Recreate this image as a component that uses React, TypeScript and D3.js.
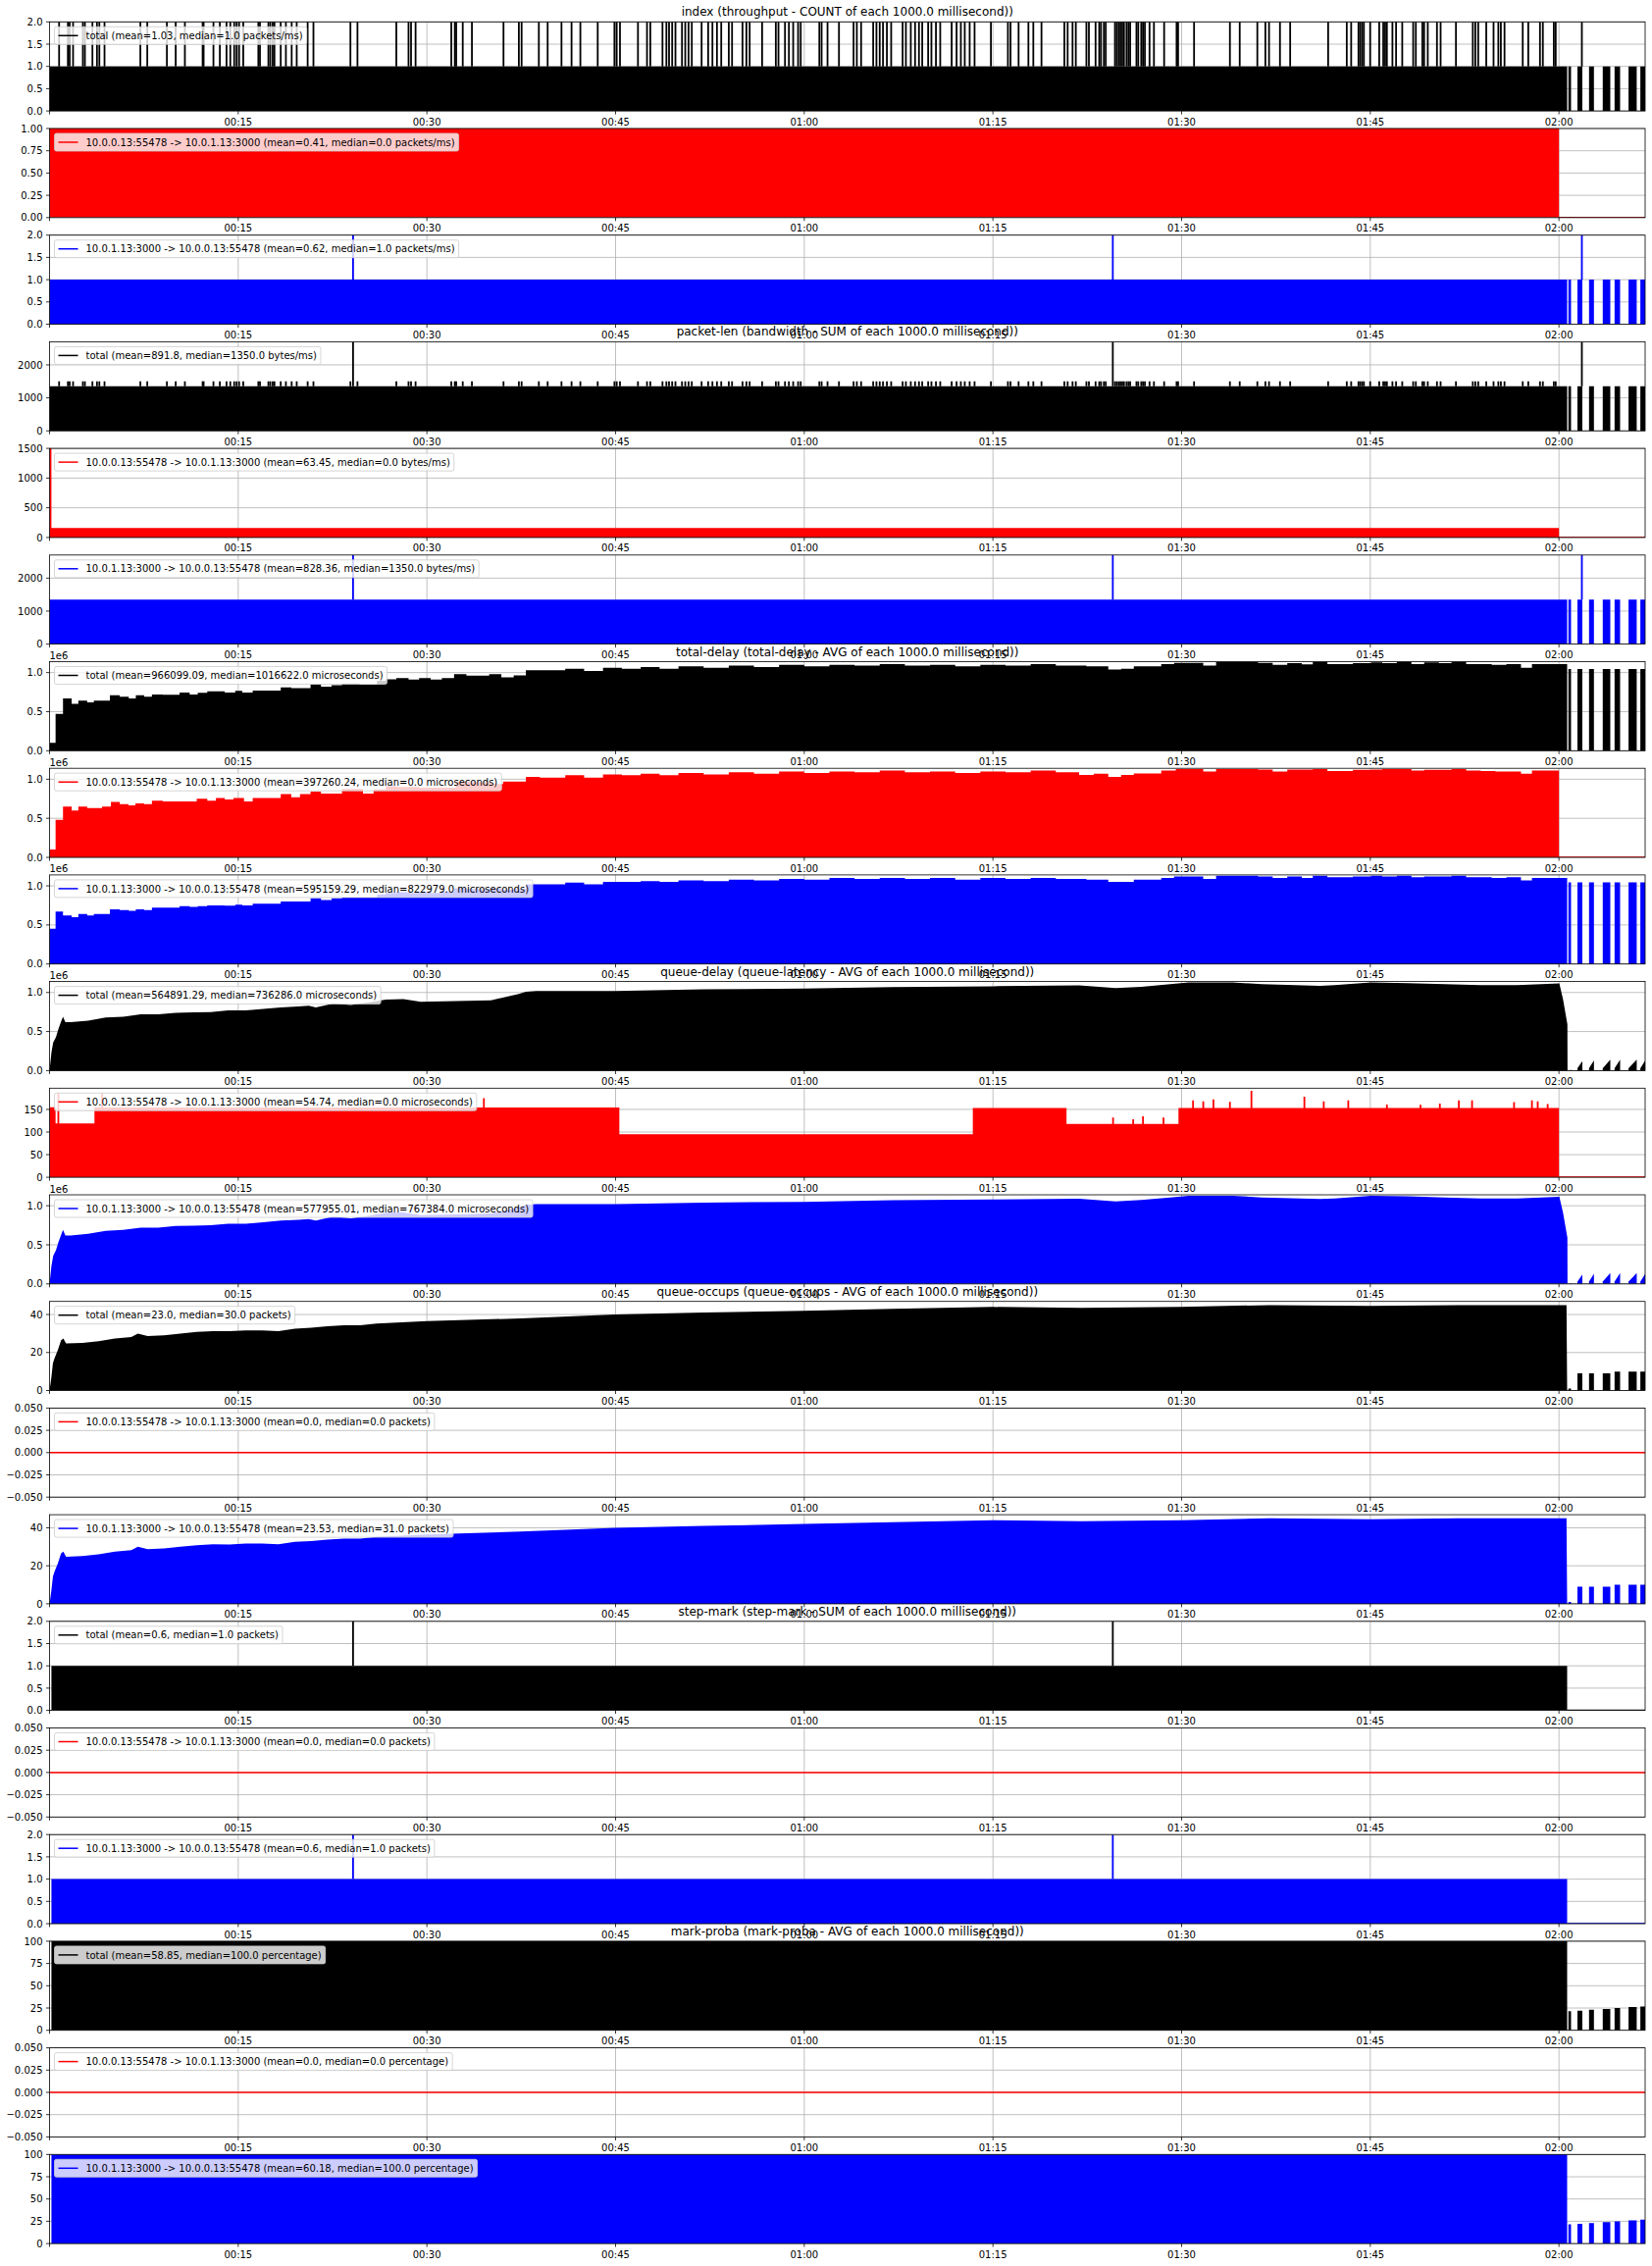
import React from "react";
import * as d3 from "d3";

// ---------- layout ----------
const W = 1684;
const H = 2310;
const LEFT = 50.5;
const RIGHT = 1677;
const TOP0 = 22.3;
const PITCH = 108.7;
const PH = 90.8;
const FONT = "'DejaVu Sans', sans-serif";

// ---------- axis data ----------
const T_END = 126.85;
const X_TICKS = [15, 30, 45, 60, 75, 90, 105, 120];
const X_LABELS = ["00:15", "00:30", "00:45", "01:00", "01:15", "01:30", "01:45", "02:00"];

const MAIN_END = 120.65; // total / blue flows stop
const RED_END = 120.0; // red flow stops
const BURST_T0 = [120.75, 121.47, 122.39, 123.48, 124.42, 125.53, 126.47];
const BURST_T1 = [120.96, 121.86, 122.78, 124.08, 124.86, 126.18, 126.9];
const BIG_SPIKES = [24.13, 84.53];
const AFTER_SPIKE = 121.82;

// spikes (2 packets in a bin) of the total count
const INDEX_SPIKES = [
  0.76, 1.46, 1.6, 1.87, 2.65, 2.81, 3.41, 3.77, 3.96, 4.37, 7.22, 7.77, 9.33, 10.03, 10.76, 12.17,
  12.25, 13.03, 13.54, 14.07, 14.37, 14.68, 14.87, 15.07, 15.4, 16.6, 16.73, 17.4, 17.55, 17.74,
  17.88, 18.38, 18.79, 19.25, 19.65, 20.52, 20.98, 23.92, 24.48, 27.57, 28.54, 28.74, 29.1,
  31.94, 32.22, 32.33, 32.85, 33.58, 36.09, 37.31, 37.53, 38.9, 39.6, 40.7, 41.5, 42.2,
  43.58, 44.91, 45.09, 45.35, 46.78, 47.5, 47.76, 48.73, 49.04, 49.25, 49.5, 49.76, 50.28, 50.54,
  50.8, 51.06, 51.84, 52.36, 52.7, 53.06, 53.4, 54.0, 54.26, 55.09, 55.4, 55.66, 56.65, 57.74,
  57.95, 58.47, 58.78, 59.12, 59.51, 59.72, 61.2, 61.38, 61.85, 62.76, 63.92, 64.18, 64.52, 65.48,
  65.74, 66.0, 66.26, 66.57, 66.91, 67.82, 68.08, 68.47, 68.81, 69.12, 69.38, 69.85, 70.11, 70.47,
  70.81, 71.72, 72.11, 72.45, 72.76, 73.15, 73.54, 74.84, 76.19, 76.4, 77.04, 77.82, 78.21, 78.86,
  80.68, 80.94, 81.33, 81.59, 82.43, 82.63, 83.16, 83.45, 83.59, 83.82, 83.97, 84.7, 84.84,
  84.99, 85.13, 85.28, 85.42, 85.62, 85.77, 85.91, 86.41, 86.55, 86.79, 86.93, 87.08, 87.45, 87.8,
  88.61, 89.6, 89.72, 90.99, 93.84, 94.62, 96.02, 96.66, 96.95, 97.82, 98.63, 101.65, 103.13,
  103.48, 104.06, 104.2, 104.35, 104.49, 104.99, 105.71, 106.03, 106.18, 106.32, 106.76, 107.05,
  107.54, 108.41, 108.62, 109.14, 109.28, 109.57, 110.3, 110.59, 111.81, 113.15, 113.35, 113.58,
  114.22, 114.8, 115.18, 115.38, 115.67, 117.12, 117.56, 118.49, 118.72, 119.59, 119.74,
];

const PKT_BLUE = 1350;
const PKT_PAIR = 1500;
const PKT_DOUBLE = 2700;
const PKT_RED = 160;
const PKT_RED_FIRST = 1500;

// total-delay (x1e6) step levels
const TD_TOTAL_T = [
  0, 0.48, 1.07, 1.76, 2.29, 2.99, 3.52, 4.8, 5.58, 6.3, 6.86, 7.52, 8.14, 9.0, 10.34, 11.14, 11.78,
  12.54, 13.93, 14.76, 15.32, 16.15, 18.38, 19.22, 20.75, 21.58, 22.42, 23.25, 24.65, 26.04, 26.73,
  27.57, 28.54, 29.38, 30.3, 31.19, 32.16, 33.14, 34.95, 35.92, 36.9, 37.87, 41, 42.5, 44, 45.5, 47,
  48.5, 50, 52, 54, 56, 58, 60, 62, 64, 66, 68, 70, 72, 74, 76, 78, 80, 81.85, 82.43, 84.17, 85.19,
  86.2, 88.38, 89.4, 91.72, 92.74, 96.08, 97.24, 98.4, 99.56, 100.43, 101.59, 103.62, 105.07,
  105.95, 107.11, 108.27, 109.28, 110.45, 111.46, 112.62, 114.65, 115.82, 116.98, 117.85,
];
const TD_TOTAL_V = [
  0.1, 0.47, 0.67, 0.6, 0.64, 0.62, 0.64, 0.71, 0.69, 0.67, 0.71, 0.69, 0.72, 0.715, 0.745, 0.72,
  0.74, 0.76, 0.745, 0.765, 0.745, 0.77, 0.81, 0.8, 0.85, 0.82, 0.84, 0.86, 0.845, 0.895, 0.915,
  0.93, 0.91, 0.93, 0.91, 0.93, 0.98, 0.96, 0.98, 0.94, 0.965, 1.03, 1.05, 1.02, 1.06, 1.05, 1.07,
  1.05, 1.08, 1.06, 1.09, 1.07, 1.1, 1.08, 1.1, 1.09, 1.11, 1.09, 1.1, 1.08, 1.1, 1.09, 1.11, 1.09,
  1.09, 1.08, 1.04, 1.05, 1.08, 1.11, 1.125, 1.09, 1.14, 1.125, 1.1, 1.12, 1.105, 1.14, 1.11, 1.12,
  1.13, 1.12, 1.14, 1.11, 1.13, 1.12, 1.14, 1.11, 1.1, 1.11, 1.06, 1.11,
];
const TD_RED_T = [
  0, 0.48, 1.07, 1.76, 2.29, 2.99, 4.18, 4.88, 5.58, 6.27, 6.83, 7.52, 8.14, 9.0, 11.7, 12.54, 13.23,
  13.93, 14.62, 15.46, 16.15, 18.38, 19.22, 19.91, 20.75, 21.58, 23.25, 24.92, 25.76, 26.73, 27.57,
  28.54, 29.38, 32.3, 33.41, 35.09, 36.06, 36.9, 37.87, 38.98, 41, 42.5, 44, 45.5, 47, 48.5, 50, 52,
  54, 56, 58, 60, 62, 64, 66, 68, 70, 72, 74, 76, 78, 80, 81.85, 83.01, 84.17, 85.19, 86.2, 88.38,
  89.54, 91.72, 92.74, 96.08, 97.24, 98.4, 100.43, 101.59, 103.62, 105.07, 105.95, 107.11, 108.27,
  109.28, 110.45, 111.46, 112.62, 113.78, 114.94, 115.82, 116.98, 117.85,
];
const TD_RED_V = [
  0.1, 0.48, 0.65, 0.6, 0.65, 0.63, 0.65, 0.71, 0.68, 0.665, 0.69, 0.68, 0.725, 0.715, 0.75, 0.725,
  0.76, 0.74, 0.76, 0.715, 0.76, 0.81, 0.77, 0.81, 0.84, 0.815, 0.875, 0.815, 0.87, 0.91, 0.9, 0.9,
  0.89, 0.97, 0.96, 0.94, 0.97, 0.97, 1.03, 1.02, 1.05, 1.02, 1.06, 1.05, 1.07, 1.05, 1.08, 1.06,
  1.09, 1.07, 1.1, 1.08, 1.1, 1.09, 1.11, 1.09, 1.1, 1.08, 1.1, 1.09, 1.11, 1.09, 1.055, 1.07, 1.03,
  1.055, 1.075, 1.11, 1.13, 1.1, 1.13, 1.125, 1.1, 1.125, 1.13, 1.105, 1.12, 1.125, 1.13, 1.13, 1.11,
  1.12, 1.12, 1.13, 1.11, 1.105, 1.1, 1.1, 1.07, 1.11,
];
const TD_BLUE_T = TD_TOTAL_T;
const TD_BLUE_V = [
  0.45, 0.67, 0.62, 0.6, 0.64, 0.62, 0.64, 0.7, 0.69, 0.68, 0.7, 0.69, 0.72, 0.72, 0.74, 0.73, 0.74,
  0.75, 0.745, 0.76, 0.75, 0.77, 0.8, 0.8, 0.84, 0.82, 0.84, 0.85, 0.85, 0.89, 0.91, 0.92, 0.91, 0.92,
  0.91, 0.93, 0.97, 0.96, 0.97, 0.95, 0.96, 1.02, 1.04, 1.02, 1.05, 1.05, 1.06, 1.05, 1.07, 1.06,
  1.08, 1.07, 1.09, 1.08, 1.1, 1.09, 1.1, 1.09, 1.1, 1.08, 1.1, 1.09, 1.1, 1.09, 1.09, 1.08, 1.05,
  1.05, 1.08, 1.1, 1.12, 1.09, 1.13, 1.12, 1.1, 1.12, 1.1, 1.13, 1.11, 1.12, 1.13, 1.12, 1.13, 1.11,
  1.12, 1.12, 1.13, 1.11, 1.1, 1.11, 1.07, 1.1,
];
const TD_AFTER = 1.045;

// queue-delay (x1e6) envelope
const QD_T = [
  0, 0.15, 0.29, 0.51, 0.7, 0.9, 1.07, 1.26, 1.68, 3.07, 4.46, 5.85, 7.25, 8.64, 10.03, 11.42,
  12.81, 14.21, 15.6, 16.99, 18.38, 19.77, 20.61, 21.17, 22.56, 23.95, 25.34, 26.73, 28.13, 29.52,
  32.3, 35.09, 37.31, 37.87, 38.7, 45, 52, 60, 67, 75, 81.85, 84.75, 86.8, 89.1, 90.56, 94.04,
  96.37, 101.0, 102.17, 105.07, 107.98, 110.88, 113.78, 116.69, 120.03, 120.32, 120.67, 120.68,
];
const QD_V = [
  0, 0.23, 0.36, 0.43, 0.53, 0.62, 0.69, 0.62, 0.62, 0.64, 0.68, 0.69, 0.72, 0.72, 0.74, 0.745,
  0.75, 0.77, 0.77, 0.79, 0.81, 0.82, 0.83, 0.81, 0.86, 0.84, 0.87, 0.91, 0.915, 0.88, 0.89, 0.9,
  0.98, 1.01, 1.02, 1.02, 1.04, 1.05, 1.07, 1.08, 1.09, 1.056, 1.073, 1.107, 1.129, 1.129, 1.107,
  1.086, 1.094, 1.129, 1.12, 1.107, 1.094, 1.094, 1.116, 0.914, 0.592, 0,
];
const QD_AFTER_START = [0.0, 0.03, 0.03, 0.03, 0.03, 0.03, 0.03];
const QD_AFTER_PEAK = [0.01, 0.12, 0.13, 0.14, 0.14, 0.14, 0.14];

// queue-delay of the red flow (microseconds)
const QDR_T = [0, 0.48, 3.57, 45.3, 73.4, 80.85, 89.75];
const QDR_V = [155, 119, 154, 95, 153, 118, 153];
const QDR_SPIKE_T = [
  0.7, 4.18, 34.53, 84.55, 86.15, 86.93, 88.56, 90.91, 91.72, 92.53, 93.84, 95.55, 99.76, 101.3,
  103.25, 106.32, 108.99, 110.53, 112.04, 113.09, 116.43, 117.85, 118.31, 119.1,
];
const QDR_SPIKE_V = [
  185, 185, 175, 132, 128, 135, 132, 170, 168, 172, 167, 191, 178, 168, 170, 161, 160, 163, 170, 170,
  166, 170, 168, 162,
];

// queue occupancy (packets)
const QO_T = [
  0, 0.14, 0.27, 0.4, 0.66, 0.92, 1.1, 1.31, 2.61, 3.9, 5.2, 6.5, 7.02, 7.8, 9.1, 10.4, 11.7, 13.0,
  14.3, 15.6, 16.9, 18.2, 19.5, 20.8, 22.1, 23.4, 24.7, 26.0, 30, 37.5, 45, 52, 60, 67, 75, 82, 90,
  97, 105, 112, 120.6, 120.65,
];
const QO_V = [
  0, 6.6, 14.4, 17, 21.3, 26.5, 27.4, 24.8, 25.1, 26, 27.4, 28.2, 30, 28.7, 29.1, 30, 30.8, 31.3,
  31.2, 31.7, 31.7, 31.3, 32.6, 33, 33.8, 34.3, 34.3, 35.2, 36.5, 38, 40, 41, 42, 43, 44, 43.5, 44,
  45, 44.5, 45, 45, 0,
];
const QO_AFTER = [1, 9, 9, 9, 10, 10, 10];

// step-mark and mark-proba
const STEP_START = 0.15;
const STEP_LEVEL = 1;
const MP_LEVEL = 100;
const MP_AFTER = [21.5, 22, 23, 24, 25, 26, 26.7];

// ---------- texts ----------
const RED_FLOW = "10.0.0.13:55478 -> 10.0.1.13:3000";
const BLUE_FLOW = "10.0.1.13:3000 -> 10.0.0.13:55478";
const TITLES: Record<number, string> = {
  0: "index (throughput - COUNT of each 1000.0 millisecond))",
  3: "packet-len (bandwidth - SUM of each 1000.0 millisecond))",
  6: "total-delay (total-delay - AVG of each 1000.0 millisecond))",
  9: "queue-delay (queue-latency - AVG of each 1000.0 millisecond))",
  12: "queue-occups (queue-occups - AVG of each 1000.0 millisecond))",
  15: "step-mark (step-mark - SUM of each 1000.0 millisecond))",
  18: "mark-proba (mark-proba - AVG of each 1000.0 millisecond))",
};
const LEGENDS = [
  "total (mean=1.03, median=1.0 packets/ms)",
  `${RED_FLOW} (mean=0.41, median=0.0 packets/ms)`,
  `${BLUE_FLOW} (mean=0.62, median=1.0 packets/ms)`,
  "total (mean=891.8, median=1350.0 bytes/ms)",
  `${RED_FLOW} (mean=63.45, median=0.0 bytes/ms)`,
  `${BLUE_FLOW} (mean=828.36, median=1350.0 bytes/ms)`,
  "total (mean=966099.09, median=1016622.0 microseconds)",
  `${RED_FLOW} (mean=397260.24, median=0.0 microseconds)`,
  `${BLUE_FLOW} (mean=595159.29, median=822979.0 microseconds)`,
  "total (mean=564891.29, median=736286.0 microseconds)",
  `${RED_FLOW} (mean=54.74, median=0.0 microseconds)`,
  `${BLUE_FLOW} (mean=577955.01, median=767384.0 microseconds)`,
  "total (mean=23.0, median=30.0 packets)",
  `${RED_FLOW} (mean=0.0, median=0.0 packets)`,
  `${BLUE_FLOW} (mean=23.53, median=31.0 packets)`,
  "total (mean=0.6, median=1.0 packets)",
  `${RED_FLOW} (mean=0.0, median=0.0 packets)`,
  `${BLUE_FLOW} (mean=0.6, median=1.0 packets)`,
  "total (mean=58.85, median=100.0 percentage)",
  `${RED_FLOW} (mean=0.0, median=0.0 percentage)`,
  `${BLUE_FLOW} (mean=60.18, median=100.0 percentage)`,
];

const BLACK = "#000000";
const RED = "#ff0000";
const BLUE = "#0000ff";

// ---------- panel specs ----------
type Seg = [number, number, number];
type Spike = [number, number, number];
interface Spec {
  color: string;
  domain: [number, number];
  ticks: number[];
  fmt: string;
  offset?: boolean;
  segs?: Seg[];
  spikes?: Spike[];
  area?: [number, number][];
  polys?: [number, number][][];
  zero?: [number, number][];
}

const steps = (ts: number[], vs: number[], end: number): Seg[] =>
  ts.map((t, i) => [t, i + 1 < ts.length ? ts[i + 1] : end, vs[i]] as Seg);
const bursts = (vals: number[]): Seg[] => BURST_T0.map((t, i) => [t, BURST_T1[i], vals[i]] as Seg);
const same = (v: number) => BURST_T0.map(() => v);
const knots = (ts: number[], vs: number[]) => ts.map((t, i) => [t, vs[i]] as [number, number]);

const ZERO_DOMAIN: [number, number] = [-0.05, 0.05];
const ZERO_TICKS = [-0.05, -0.025, 0, 0.025, 0.05];

const qdPolys = (): [number, number][][] =>
  BURST_T0.map((t0, i) => [
    [t0, QD_AFTER_START[i]],
    [BURST_T1[i], QD_AFTER_PEAK[i]],
  ]);

const SPECS: Spec[] = [
  {
    color: BLACK, domain: [0, 2], ticks: [0, 0.5, 1, 1.5, 2], fmt: ".1f",
    segs: [[0, MAIN_END, 1], ...bursts(same(1))],
    spikes: [...INDEX_SPIKES.map((t) => [t, 1, 2] as Spike), [AFTER_SPIKE, 1, 2]],
  },
  {
    color: RED, domain: [0, 1], ticks: [0, 0.25, 0.5, 0.75, 1], fmt: ".2f",
    segs: [[0, RED_END, 1]], zero: [[RED_END, T_END]],
  },
  {
    color: BLUE, domain: [0, 2], ticks: [0, 0.5, 1, 1.5, 2], fmt: ".1f",
    segs: [[0, MAIN_END, 1], ...bursts(same(1))],
    spikes: [...BIG_SPIKES.map((t) => [t, 1, 2] as Spike), [AFTER_SPIKE, 1, 2]],
  },
  {
    color: BLACK, domain: [0, PKT_DOUBLE], ticks: [0, 1000, 2000], fmt: "d",
    segs: [[0, MAIN_END, PKT_BLUE], ...bursts(same(PKT_BLUE))],
    spikes: [
      ...INDEX_SPIKES.map((t) => [t, PKT_BLUE, PKT_PAIR] as Spike),
      ...BIG_SPIKES.map((t) => [t, PKT_BLUE, PKT_DOUBLE] as Spike),
      [AFTER_SPIKE, PKT_BLUE, PKT_DOUBLE],
    ],
  },
  {
    color: RED, domain: [0, 1500], ticks: [0, 500, 1000, 1500], fmt: "d",
    segs: [[0, RED_END, PKT_RED]], spikes: [[0.08, 0, PKT_RED_FIRST]], zero: [[RED_END, T_END]],
  },
  {
    color: BLUE, domain: [0, PKT_DOUBLE], ticks: [0, 1000, 2000], fmt: "d",
    segs: [[0, MAIN_END, PKT_BLUE], ...bursts(same(PKT_BLUE))],
    spikes: [...BIG_SPIKES.map((t) => [t, PKT_BLUE, PKT_DOUBLE] as Spike), [AFTER_SPIKE, PKT_BLUE, PKT_DOUBLE]],
  },
  {
    color: BLACK, domain: [0, 1.14], ticks: [0, 0.5, 1], fmt: ".1f", offset: true,
    segs: [...steps(TD_TOTAL_T, TD_TOTAL_V, MAIN_END), ...bursts(same(TD_AFTER))],
  },
  {
    color: RED, domain: [0, 1.14], ticks: [0, 0.5, 1], fmt: ".1f", offset: true,
    segs: steps(TD_RED_T, TD_RED_V, RED_END), zero: [[RED_END, T_END]],
  },
  {
    color: BLUE, domain: [0, 1.14], ticks: [0, 0.5, 1], fmt: ".1f", offset: true,
    segs: [...steps(TD_BLUE_T, TD_BLUE_V, MAIN_END), ...bursts(same(TD_AFTER))],
  },
  {
    color: BLACK, domain: [0, 1.14], ticks: [0, 0.5, 1], fmt: ".1f", offset: true,
    area: knots(QD_T, QD_V), polys: qdPolys(),
  },
  {
    color: RED, domain: [0, 197], ticks: [0, 50, 100, 150], fmt: "d",
    segs: steps(QDR_T, QDR_V, RED_END),
    spikes: QDR_SPIKE_T.map((t, i) => [t, 0, QDR_SPIKE_V[i]] as Spike),
    zero: [[RED_END, T_END]],
  },
  {
    color: BLUE, domain: [0, 1.14], ticks: [0, 0.5, 1], fmt: ".1f", offset: true,
    area: knots(QD_T, QD_V), polys: qdPolys(),
  },
  {
    color: BLACK, domain: [0, 46.9], ticks: [0, 20, 40], fmt: "d",
    area: knots(QO_T, QO_V), segs: bursts(QO_AFTER),
  },
  { color: RED, domain: ZERO_DOMAIN, ticks: ZERO_TICKS, fmt: ".3f", zero: [[0, T_END]] },
  {
    color: BLUE, domain: [0, 46.9], ticks: [0, 20, 40], fmt: "d",
    area: knots(QO_T, QO_V), segs: bursts(QO_AFTER),
  },
  {
    color: BLACK, domain: [0, 2], ticks: [0, 0.5, 1, 1.5, 2], fmt: ".1f",
    segs: [[STEP_START, MAIN_END, STEP_LEVEL]],
    spikes: BIG_SPIKES.map((t) => [t, 1, 2] as Spike), zero: [[MAIN_END, T_END]],
  },
  { color: RED, domain: ZERO_DOMAIN, ticks: ZERO_TICKS, fmt: ".3f", zero: [[0, T_END]] },
  {
    color: BLUE, domain: [0, 2], ticks: [0, 0.5, 1, 1.5, 2], fmt: ".1f",
    segs: [[STEP_START, MAIN_END, STEP_LEVEL]],
    spikes: BIG_SPIKES.map((t) => [t, 1, 2] as Spike), zero: [[MAIN_END, T_END]],
  },
  {
    color: BLACK, domain: [0, 100], ticks: [0, 25, 50, 75, 100], fmt: "d",
    segs: [[STEP_START, MAIN_END, MP_LEVEL], ...bursts(MP_AFTER)],
  },
  { color: RED, domain: ZERO_DOMAIN, ticks: ZERO_TICKS, fmt: ".3f", zero: [[0, T_END]] },
  {
    color: BLUE, domain: [0, 100], ticks: [0, 25, 50, 75, 100], fmt: "d",
    segs: [[STEP_START, MAIN_END, MP_LEVEL], ...bursts(MP_AFTER)],
  },
];

let ctx: CanvasRenderingContext2D | null = null;
function measure(s: string, size: number): number {
  if (!ctx) ctx = document.createElement("canvas").getContext("2d");
  if (!ctx) return s.length * size * 0.55;
  ctx.font = `${size}px 'DejaVu Sans'`;
  return ctx.measureText(s).width;
}

const x = d3.scaleLinear().domain([0, T_END]).range([LEFT, RIGHT]);

function Panel({ i, spec }: { i: number; spec: Spec }) {
  const top = TOP0 + i * PITCH;
  const bottom = top + PH;
  const y = d3.scaleLinear().domain(spec.domain).range([bottom, top]);
  const f = d3.format(spec.fmt);
  const fmt = (v: number) => f(v).replace("-", "\u2212");
  const clipId = `clip${i}`;
  const y0 = y(Math.max(0, spec.domain[0]));
  const areaGen = d3
    .area<[number, number]>()
    .x((d) => x(d[0]))
    .y0(y0)
    .y1((d) => y(d[1]));
  // all step bars of a panel in one path: no seams between neighbours
  const segPath = (spec.segs || [])
    .map((s) => {
      const x0 = x(s[0]);
      const x1 = Math.max(x(s[1]), x0 + 0.5);
      const yt = y(s[2]);
      return `M${x0},${y0}V${yt}H${x1}V${y0}Z`;
    })
    .join("");
  const legend = LEGENDS[i];
  const tw = measure(legend, 10);
  const lx = LEFT + 5;
  const ly = top + 5;
  const lw = 4 + 20 + 8 + tw + 4;
  const lh = 18;
  return (
    <g>
      <defs>
        <clipPath id={clipId}>
          <rect x={LEFT} y={top} width={RIGHT - LEFT} height={PH} />
        </clipPath>
      </defs>
      {/* grid */}
      <g stroke="#b0b0b0" strokeWidth={0.8}>
        {X_TICKS.map((t) => (
          <line key={"gx" + t} x1={x(t)} x2={x(t)} y1={top} y2={bottom} />
        ))}
        {spec.ticks.map((v) => (
          <line key={"gy" + v} x1={LEFT} x2={RIGHT} y1={y(v)} y2={y(v)} />
        ))}
      </g>
      <g clipPath={`url(#${clipId})`}>
        {spec.area && <path d={areaGen(spec.area) || ""} fill={spec.color} />}
        {spec.polys &&
          spec.polys.map((p, k) => <path key={"p" + k} d={areaGen(p) || ""} fill={spec.color} />)}
        {segPath && <path d={segPath} fill={spec.color} />}
        {spec.spikes &&
          spec.spikes.map((s, k) => (
            <line
              key={"k" + k}
              x1={x(s[0])}
              x2={x(s[0])}
              y1={y(s[1])}
              y2={y(s[2])}
              stroke={spec.color}
              strokeWidth={1.8}
            />
          ))}
        {spec.zero &&
          spec.zero.map((z, k) => (
            <line
              key={"z" + k}
              x1={x(z[0])}
              x2={x(z[1])}
              y1={y(0)}
              y2={y(0)}
              stroke={spec.color}
              strokeWidth={1.5}
            />
          ))}
      </g>
      {/* spines */}
      <rect x={LEFT} y={top} width={RIGHT - LEFT} height={PH} fill="none" stroke="#000" strokeWidth={0.8} />
      {/* ticks */}
      <g fontFamily={FONT} fontSize={10} fill="#000">
        <line x1={LEFT} x2={LEFT} y1={bottom} y2={bottom + 3.5} stroke="#000" strokeWidth={0.8} />
        {X_TICKS.map((t, k) => (
          <g key={"xt" + t}>
            <line x1={x(t)} x2={x(t)} y1={bottom} y2={bottom + 3.5} stroke="#000" strokeWidth={0.8} />
            <text x={x(t)} y={bottom + 14.5} textAnchor="middle">
              {X_LABELS[k]}
            </text>
          </g>
        ))}
        {spec.ticks.map((v) => (
          <g key={"yt" + v}>
            <line x1={LEFT - 3.5} x2={LEFT} y1={y(v)} y2={y(v)} stroke="#000" strokeWidth={0.8} />
            <text x={LEFT - 7} y={y(v) + 3.6} textAnchor="end">
              {fmt(v)}
            </text>
          </g>
        ))}
        {spec.offset && (
          <text x={LEFT} y={top - 2.5}>
            1e6
          </text>
        )}
      </g>
      {TITLES[i] && (
        <text x={(LEFT + RIGHT) / 2} y={top - 6} textAnchor="middle" fontFamily={FONT} fontSize={12}>
          {TITLES[i]}
        </text>
      )}
      {/* legend */}
      <g>
        <rect x={lx} y={ly} width={lw} height={lh} rx={2} fill="#fff" fillOpacity={0.8} stroke="#cccccc" strokeWidth={0.8} />
        <line x1={lx + 4} x2={lx + 24} y1={ly + lh / 2} y2={ly + lh / 2} stroke={spec.color} strokeWidth={1.5} />
        <text x={lx + 32} y={ly + lh / 2 + 3.6} fontFamily={FONT} fontSize={10} fill="#000">
          {legend}
        </text>
      </g>
    </g>
  );
}

export default function App() {
  return (
    <div style={{ position: "absolute", left: 0, top: 0, width: W, height: H, background: "#fff" }}>
      <svg width={W} height={H} viewBox={`0 0 ${W} ${H}`} xmlns="http://www.w3.org/2000/svg">
        <rect width={W} height={H} fill="#fff" />
        {SPECS.map((s, i) => (
          <Panel key={i} i={i} spec={s} />
        ))}
      </svg>
    </div>
  );
}
